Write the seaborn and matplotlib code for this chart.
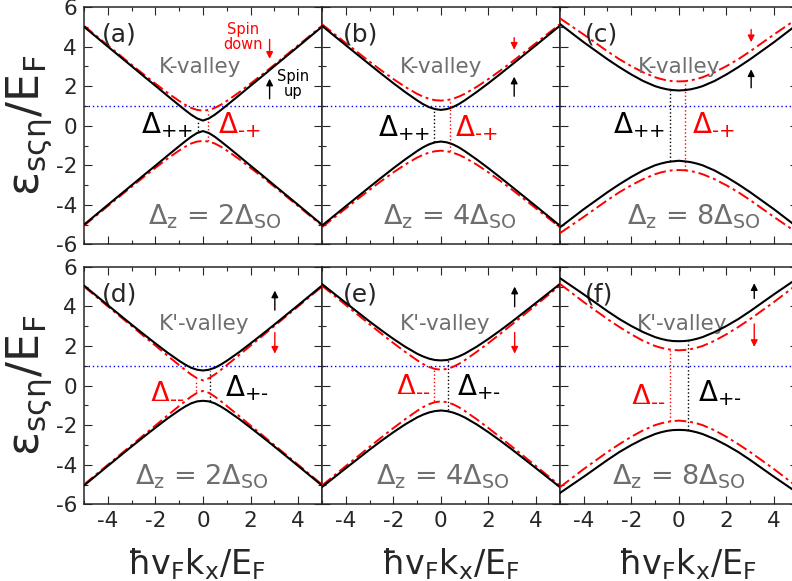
import numpy as np
import pandas as pd
import seaborn as sns
import matplotlib.pyplot as plt

# momentum grid, hbar vF kx / EF
k = [-5, -4, -3, -2.5, -2, -1.5, -1, -0.75, -0.5, -0.25, 0,
     0.25, 0.5, 0.75, 1, 1.5, 2, 2.5, 3, 4, 5]

# bands (upper / lower branch), small and large gap
dz2_small_up = [5.00, 4.00, 3.01, 2.51, 2.02, 1.52, 1.03, 0.79, 0.56, 0.37, 0.26,
                0.37, 0.56, 0.79, 1.03, 1.52, 2.02, 2.51, 3.01, 4.00, 5.00]
dz2_small_dn = [-5.00, -4.00, -3.01, -2.51, -2.02, -1.52, -1.03, -0.79, -0.56, -0.37, -0.27,
                -0.37, -0.56, -0.79, -1.03, -1.52, -2.02, -2.51, -3.01, -4.00, -5.00]
dz2_large_up = [5.05, 4.06, 3.08, 2.60, 2.13, 1.67, 1.25, 1.06, 0.90, 0.80, 0.76,
                0.80, 0.90, 1.06, 1.25, 1.67, 2.13, 2.60, 3.08, 4.06, 5.05]
dz2_large_dn = [-5.05, -4.06, -3.08, -2.60, -2.13, -1.67, -1.25, -1.06, -0.90, -0.80, -0.77,
                -0.80, -0.90, -1.06, -1.25, -1.67, -2.13, -2.60, -3.08, -4.06, -5.05]

dz4_small_up = [5.05, 4.07, 3.10, 2.62, 2.15, 1.70, 1.28, 1.09, 0.94, 0.84, 0.80,
                0.84, 0.94, 1.09, 1.28, 1.70, 2.15, 2.62, 3.10, 4.07, 5.05]
dz4_small_dn = [-5.05, -4.07, -3.10, -2.62, -2.15, -1.70, -1.28, -1.09, -0.94, -0.84, -0.80,
                -0.84, -0.94, -1.09, -1.28, -1.70, -2.15, -2.62, -3.10, -4.07, -5.05]
dz4_large_up = [5.13, 4.18, 3.24, 2.79, 2.36, 1.96, 1.61, 1.47, 1.36, 1.29, 1.27,
                1.29, 1.36, 1.47, 1.61, 1.96, 2.36, 2.79, 3.24, 4.18, 5.13]
dz4_large_dn = [-5.13, -4.18, -3.24, -2.79, -2.36, -1.96, -1.61, -1.47, -1.36, -1.29, -1.26,
                -1.29, -1.36, -1.47, -1.61, -1.96, -2.36, -2.79, -3.24, -4.18, -5.13]

dz8_small_up = [5.14, 4.22, 3.36, 2.96, 2.59, 2.26, 2.00, 1.91, 1.84, 1.80, 1.78,
                1.80, 1.84, 1.91, 2.00, 2.26, 2.59, 2.96, 3.36, 4.22, 5.14]
dz8_small_dn = [-5.14, -4.22, -3.36, -2.96, -2.59, -2.26, -2.00, -1.91, -1.84, -1.80, -1.77,
                -1.80, -1.84, -1.91, -2.00, -2.26, -2.59, -2.96, -3.36, -4.22, -5.14]
dz8_large_up = [5.43, 4.61, 3.76, 3.36, 3.01, 2.70, 2.45, 2.36, 2.29, 2.25, 2.24,
                2.25, 2.29, 2.36, 2.45, 2.70, 3.01, 3.36, 3.76, 4.61, 5.43]
dz8_large_dn = [-5.43, -4.61, -3.76, -3.36, -3.01, -2.70, -2.45, -2.36, -2.29, -2.25, -2.24,
                -2.25, -2.29, -2.36, -2.45, -2.70, -3.01, -3.36, -3.76, -4.61, -5.43]

panel_letters = ['(a)', '(b)', '(c)', '(d)', '(e)', '(f)']
dz_ratio = ['2', '4', '8', '2', '4', '8']
valley_names = ['K-valley', 'K-valley', 'K-valley', "K'-valley", "K'-valley", "K'-valley"]
fermi_level = 1.0

bands = {
    '2': (dz2_small_up, dz2_small_dn, dz2_large_up, dz2_large_dn),
    '4': (dz4_small_up, dz4_small_dn, dz4_large_up, dz4_large_dn),
    '8': (dz8_small_up, dz8_small_dn, dz8_large_up, dz8_large_dn),
}

sns.set_style('ticks')
plt.rcParams['font.family'] = ['DejaVu Sans']
plt.rcParams['mathtext.default'] = 'regular'
plt.rcParams['axes.unicode_minus'] = False

GRAY = '#6e6e6e'
RED_DASH = (0, (6, 2, 1.5, 2))

fig, axes = plt.subplots(2, 3, figsize=(7.92, 5.81), dpi=100, sharex=True, sharey=True)
fig.subplots_adjust(left=0.1061, right=1.0073, bottom=0.132, top=0.988,
                    wspace=0, hspace=0.094)

# per panel: x of the inner / outer gap line, label anchors, text positions
gap_x = [(-0.22, 0.23), (-0.28, 0.38), (-0.35, 0.28),
         (-0.28, 0.28), (-0.28, 0.28), (-0.37, 0.40)]
gap_lbl_x = [(-0.43, 0.62), (-0.46, 0.59), (-0.57, 0.56),
             (-0.77, 0.92), (-0.46, 0.67), (-0.58, 0.81)]
gap_lbl_y = [(-0.37, -0.37), (-0.54, -0.54), (-0.37, -0.37),
             (-0.63, -0.56), (-0.30, -0.47), (-0.80, -0.80)]
letter_x = [0.076, 0.088, 0.105, 0.076, 0.088, 0.105]
dz_text_x = [0.49, 0.38, 0.65, -0.03, 0.10, 0.02]
valley_x = [-0.14, 0.0, 0.0, 0.03, 0.19, 0.14]
arrow_x = [2.8, 3.08, 3.04, 3.02, 3.1, 3.17]
arrow_red = [(4.5, 3.24), (4.59, 3.7), (5.0, 4.08), (2.82, 1.47), (2.82, 1.47), (3.25, 1.81)]
arrow_blk = [(1.22, 2.52), (1.35, 2.62), (1.78, 2.99), (3.67, 4.94), (3.84, 5.14), (4.26, 5.31)]

for i, ax in enumerate(axes.flat):
    s_up, s_dn, l_up, l_dn = bands[dz_ratio[i]]
    top_row = i < 3
    # K valley: spin up (black) has the small gap; K' valley: spin down (red)
    blk_up, blk_dn = (s_up, s_dn) if top_row else (l_up, l_dn)
    red_up, red_dn = (l_up, l_dn) if top_row else (s_up, s_dn)

    ax.axhline(fermi_level, color='blue', ls=(0, (1, 2)), lw=1.0, zorder=1)

    for band in (red_up, red_dn):
        sns.lineplot(x=k, y=band, ax=ax, color='red', lw=1.4, linestyle=RED_DASH,
                     estimator=None, zorder=3)
    for band in (blk_up, blk_dn):
        sns.lineplot(x=k, y=band, ax=ax, color='black', lw=1.5, estimator=None, zorder=4)

    # gap markers
    xi, xo = gap_x[i]
    if top_row:
        ax.plot([xi, xi], [blk_dn[10], blk_up[10]], color='black', ls=':', lw=1)
        ax.plot([xo, xo], [red_dn[10], red_up[10]], color='red', ls=':', lw=1)
        ax.text(gap_lbl_x[i][0], gap_lbl_y[i][0], r'$\Delta_{\text{++}}$', color='black',
                fontsize=20, ha='right', va='baseline')
        ax.text(gap_lbl_x[i][1], gap_lbl_y[i][1], r'$\Delta_{\text{-+}}$', color='red',
                fontsize=20, ha='left', va='baseline')
    else:
        ax.plot([xi, xi], [red_dn[10], red_up[10]], color='red', ls=':', lw=1)
        ax.plot([xo, xo], [blk_dn[10], blk_up[10]], color='black', ls=':', lw=1)
        ax.text(gap_lbl_x[i][0], gap_lbl_y[i][0], r'$\Delta_{\text{--}}$', color='red',
                fontsize=20, ha='right', va='baseline')
        ax.text(gap_lbl_x[i][1], gap_lbl_y[i][1], r'$\Delta_{\text{+-}}$', color='black',
                fontsize=20, ha='left', va='baseline')

    ax.text(letter_x[i], 0.935, panel_letters[i], transform=ax.transAxes,
            fontsize=18, ha='left', va='top')
    ax.text(valley_x[i], 2.95 if top_row else 3.1, valley_names[i], color=GRAY,
            fontsize=15.5, ha='center', va='center')
    ax.text(dz_text_x[i], -5.0, r'$\Delta_z$ = ' + dz_ratio[i] + r'$\Delta_{SO}$',
            color=GRAY, fontsize=19.5, ha='center', va='baseline')

    ax.annotate('', xy=(arrow_x[i], arrow_red[i][1]), xytext=(arrow_x[i], arrow_red[i][0]),
                arrowprops=dict(arrowstyle='-|>', color='red', lw=1, mutation_scale=10))
    ax.annotate('', xy=(arrow_x[i], arrow_blk[i][1]), xytext=(arrow_x[i], arrow_blk[i][0]),
                arrowprops=dict(arrowstyle='-|>', color='black', lw=1, mutation_scale=10))

    ax.set_xlim(-5, 5)
    ax.set_ylim(-6, 6)
    ax.set_xticks([-4, -2, 0, 2, 4])
    ax.set_xticks([-5, -3, -1, 1, 3, 5], minor=True)
    ax.set_yticks([-6, -4, -2, 0, 2, 4, 6])
    ax.set_yticks([-5, -3, -1, 1, 3, 5], minor=True)
    ax.tick_params(which='both', direction='in', top=True, right=True,
                   labelsize=15.5, pad=5, width=0.8)
    ax.tick_params(which='major', length=6)
    ax.tick_params(which='minor', length=3)
    for sp in ax.spines.values():
        sp.set_linewidth(1.1)
    ax.set_xlabel('')
    ax.set_ylabel('')

axes[0, 0].text(1.7, 4.46, 'Spin\ndown', color='red', fontsize=10.5,
                ha='center', va='center', linespacing=1.0)
axes[0, 0].text(3.77, 2.1, 'Spin\nup', color='black', fontsize=10.5,
                ha='center', va='center', linespacing=1.0)

for ax in axes[:, 0]:
    ax.set_ylabel(r'$\epsilon_{s\varsigma\eta}/E_F$', fontsize=32)
    ax.yaxis.set_label_coords(-0.125, 0.5)
for ax, cx in zip(axes[1, :], [0.473, 0.54, 0.534]):
    ax.set_xlabel(r'$\hbar v_F k_x/E_F$', fontsize=24)
    ax.xaxis.set_label_coords(cx, -0.175)

fig.savefig('out.png', dpi=100)
